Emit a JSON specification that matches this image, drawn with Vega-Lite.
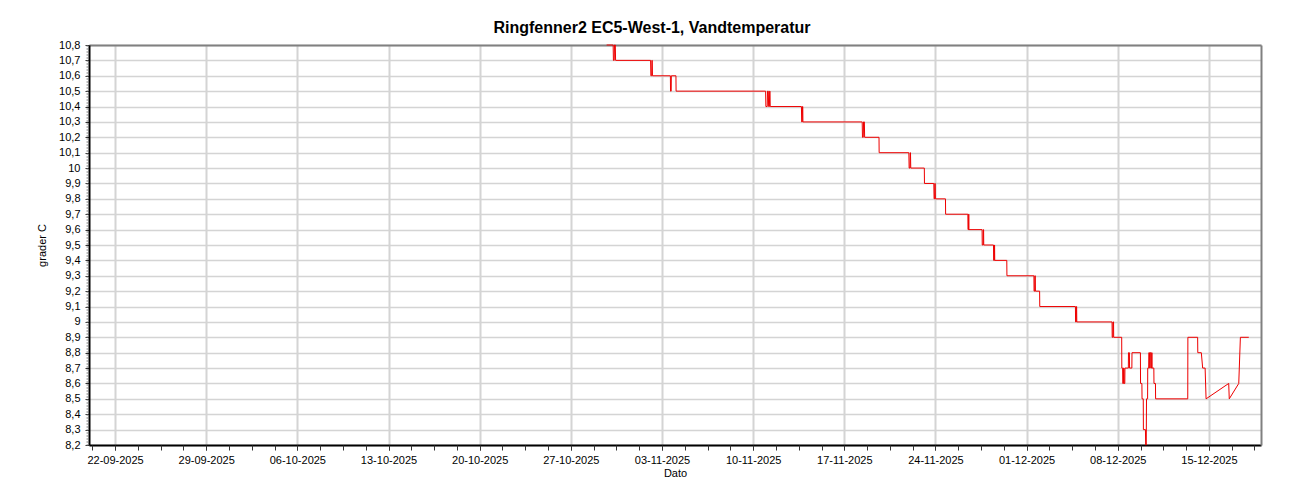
{
  "$schema": "https://vega.github.io/schema/vega-lite/v6.json",
  "width": 1172,
  "height": 400,
  "autosize": "none",
  "padding": {"left": 89, "top": 45, "right": 39, "bottom": 55},
  "background": "white",
  "config": {
    "view": {"stroke": null},
    "font": "Liberation Sans",
    "axis": {"labelFont": "Liberation Sans", "titleFont": "Liberation Sans", "labelColor": "black", "titleColor": "black", "labelFontSize": 11, "titleFontSize": 11, "titleFontWeight": "normal", "zindex": 0}
  },
  "title": {
    "text": "Ringfenner2 EC5-West-1, Vandtemperatur",
    "font": "Liberation Sans",
    "fontSize": 16,
    "fontWeight": "bold",
    "color": "black",
    "anchor": "middle",
    "dx": -23,
    "baseline": "alphabetic",
    "offset": -10
  },
  "data": {
    "values": [
      {"t": "2025-10-29T18:00", "v": 10.8},
      {"t": "2025-10-30T06:00", "v": 10.8},
      {"t": "2025-10-30T06:30", "v": 10.7},
      {"t": "2025-10-30T08:00", "v": 10.7},
      {"t": "2025-10-30T08:30", "v": 10.8},
      {"t": "2025-10-30T10:00", "v": 10.8},
      {"t": "2025-10-30T10:30", "v": 10.7},
      {"t": "2025-11-02T03:00", "v": 10.7},
      {"t": "2025-11-02T03:30", "v": 10.6},
      {"t": "2025-11-02T05:00", "v": 10.6},
      {"t": "2025-11-02T05:30", "v": 10.7},
      {"t": "2025-11-02T06:00", "v": 10.7},
      {"t": "2025-11-02T06:30", "v": 10.6},
      {"t": "2025-11-03T15:30", "v": 10.6},
      {"t": "2025-11-03T15:45", "v": 10.5},
      {"t": "2025-11-03T17:00", "v": 10.5},
      {"t": "2025-11-03T17:15", "v": 10.6},
      {"t": "2025-11-04T01:45", "v": 10.6},
      {"t": "2025-11-04T02:00", "v": 10.5},
      {"t": "2025-11-10T23:00", "v": 10.5},
      {"t": "2025-11-10T23:30", "v": 10.4},
      {"t": "2025-11-11T02:00", "v": 10.4},
      {"t": "2025-11-11T02:30", "v": 10.5},
      {"t": "2025-11-11T04:00", "v": 10.5},
      {"t": "2025-11-11T04:30", "v": 10.4},
      {"t": "2025-11-11T06:00", "v": 10.4},
      {"t": "2025-11-11T06:30", "v": 10.5},
      {"t": "2025-11-11T07:00", "v": 10.5},
      {"t": "2025-11-11T07:30", "v": 10.4},
      {"t": "2025-11-13T17:00", "v": 10.4},
      {"t": "2025-11-13T17:30", "v": 10.3},
      {"t": "2025-11-13T18:30", "v": 10.3},
      {"t": "2025-11-13T19:00", "v": 10.4},
      {"t": "2025-11-13T19:30", "v": 10.4},
      {"t": "2025-11-13T19:45", "v": 10.3},
      {"t": "2025-11-18T09:00", "v": 10.3},
      {"t": "2025-11-18T09:30", "v": 10.2},
      {"t": "2025-11-18T11:00", "v": 10.2},
      {"t": "2025-11-18T11:30", "v": 10.3},
      {"t": "2025-11-18T13:00", "v": 10.3},
      {"t": "2025-11-18T13:30", "v": 10.2},
      {"t": "2025-11-19T16:00", "v": 10.2},
      {"t": "2025-11-19T16:15", "v": 10.1},
      {"t": "2025-11-21T23:00", "v": 10.1},
      {"t": "2025-11-21T23:30", "v": 10.0},
      {"t": "2025-11-22T01:00", "v": 10.0},
      {"t": "2025-11-22T01:30", "v": 10.1},
      {"t": "2025-11-22T02:00", "v": 10.1},
      {"t": "2025-11-22T02:30", "v": 10.0},
      {"t": "2025-11-23T03:30", "v": 10.0},
      {"t": "2025-11-23T03:45", "v": 9.9},
      {"t": "2025-11-23T21:00", "v": 9.9},
      {"t": "2025-11-23T21:30", "v": 9.8},
      {"t": "2025-11-23T22:30", "v": 9.8},
      {"t": "2025-11-23T23:00", "v": 9.9},
      {"t": "2025-11-23T23:30", "v": 9.9},
      {"t": "2025-11-24T00:00", "v": 9.8},
      {"t": "2025-11-24T18:30", "v": 9.8},
      {"t": "2025-11-24T18:45", "v": 9.7},
      {"t": "2025-11-26T11:45", "v": 9.7},
      {"t": "2025-11-26T12:00", "v": 9.6},
      {"t": "2025-11-26T13:00", "v": 9.6},
      {"t": "2025-11-26T13:15", "v": 9.7},
      {"t": "2025-11-26T13:30", "v": 9.7},
      {"t": "2025-11-26T13:45", "v": 9.6},
      {"t": "2025-11-27T14:00", "v": 9.6},
      {"t": "2025-11-27T14:15", "v": 9.5},
      {"t": "2025-11-27T16:00", "v": 9.5},
      {"t": "2025-11-27T16:15", "v": 9.6},
      {"t": "2025-11-27T16:45", "v": 9.6},
      {"t": "2025-11-27T17:00", "v": 9.5},
      {"t": "2025-11-28T11:00", "v": 9.5},
      {"t": "2025-11-28T11:15", "v": 9.4},
      {"t": "2025-11-28T12:30", "v": 9.4},
      {"t": "2025-11-28T12:45", "v": 9.5},
      {"t": "2025-11-28T13:00", "v": 9.5},
      {"t": "2025-11-28T13:15", "v": 9.4},
      {"t": "2025-11-29T11:30", "v": 9.4},
      {"t": "2025-11-29T11:45", "v": 9.3},
      {"t": "2025-12-01T13:30", "v": 9.3},
      {"t": "2025-12-01T13:45", "v": 9.2},
      {"t": "2025-12-01T15:00", "v": 9.2},
      {"t": "2025-12-01T15:15", "v": 9.3},
      {"t": "2025-12-01T16:00", "v": 9.3},
      {"t": "2025-12-01T16:15", "v": 9.2},
      {"t": "2025-12-02T00:00", "v": 9.2},
      {"t": "2025-12-02T00:15", "v": 9.1},
      {"t": "2025-12-04T18:00", "v": 9.1},
      {"t": "2025-12-04T18:15", "v": 9.0},
      {"t": "2025-12-04T19:30", "v": 9.0},
      {"t": "2025-12-04T19:45", "v": 9.1},
      {"t": "2025-12-04T20:15", "v": 9.1},
      {"t": "2025-12-04T20:30", "v": 9.0},
      {"t": "2025-12-07T13:30", "v": 9.0},
      {"t": "2025-12-07T13:45", "v": 8.9},
      {"t": "2025-12-07T15:00", "v": 8.9},
      {"t": "2025-12-07T15:15", "v": 9.0},
      {"t": "2025-12-07T16:15", "v": 9.0},
      {"t": "2025-12-07T16:30", "v": 8.9},
      {"t": "2025-12-08T07:15", "v": 8.9},
      {"t": "2025-12-08T07:30", "v": 8.7},
      {"t": "2025-12-08T09:00", "v": 8.7},
      {"t": "2025-12-08T09:15", "v": 8.6},
      {"t": "2025-12-08T10:30", "v": 8.6},
      {"t": "2025-12-08T10:45", "v": 8.7},
      {"t": "2025-12-08T11:30", "v": 8.7},
      {"t": "2025-12-08T11:45", "v": 8.6},
      {"t": "2025-12-08T13:00", "v": 8.6},
      {"t": "2025-12-08T13:15", "v": 8.7},
      {"t": "2025-12-08T19:30", "v": 8.7},
      {"t": "2025-12-08T19:45", "v": 8.8},
      {"t": "2025-12-08T21:30", "v": 8.8},
      {"t": "2025-12-08T21:45", "v": 8.7},
      {"t": "2025-12-09T02:00", "v": 8.7},
      {"t": "2025-12-09T02:15", "v": 8.8},
      {"t": "2025-12-09T17:45", "v": 8.8},
      {"t": "2025-12-09T18:00", "v": 8.6},
      {"t": "2025-12-09T20:30", "v": 8.6},
      {"t": "2025-12-09T20:45", "v": 8.5},
      {"t": "2025-12-09T23:00", "v": 8.5},
      {"t": "2025-12-09T23:15", "v": 8.3},
      {"t": "2025-12-10T03:00", "v": 8.3},
      {"t": "2025-12-10T03:30", "v": 8.2},
      {"t": "2025-12-10T04:30", "v": 8.2},
      {"t": "2025-12-10T05:00", "v": 8.5},
      {"t": "2025-12-10T07:00", "v": 8.5},
      {"t": "2025-12-10T07:15", "v": 8.7},
      {"t": "2025-12-10T09:00", "v": 8.7},
      {"t": "2025-12-10T09:15", "v": 8.8},
      {"t": "2025-12-10T10:30", "v": 8.8},
      {"t": "2025-12-10T10:45", "v": 8.7},
      {"t": "2025-12-10T11:45", "v": 8.7},
      {"t": "2025-12-10T12:00", "v": 8.8},
      {"t": "2025-12-10T13:15", "v": 8.8},
      {"t": "2025-12-10T13:30", "v": 8.7},
      {"t": "2025-12-10T14:30", "v": 8.7},
      {"t": "2025-12-10T14:45", "v": 8.8},
      {"t": "2025-12-10T15:00", "v": 8.8},
      {"t": "2025-12-10T15:15", "v": 8.7},
      {"t": "2025-12-10T18:30", "v": 8.7},
      {"t": "2025-12-10T18:45", "v": 8.6},
      {"t": "2025-12-10T21:30", "v": 8.6},
      {"t": "2025-12-10T21:45", "v": 8.5},
      {"t": "2025-12-13T09:00", "v": 8.5},
      {"t": "2025-12-13T09:15", "v": 8.9},
      {"t": "2025-12-14T03:15", "v": 8.9},
      {"t": "2025-12-14T03:30", "v": 8.8},
      {"t": "2025-12-14T10:00", "v": 8.8},
      {"t": "2025-12-14T12:30", "v": 8.7},
      {"t": "2025-12-14T17:00", "v": 8.7},
      {"t": "2025-12-14T18:45", "v": 8.5},
      {"t": "2025-12-16T12:30", "v": 8.6},
      {"t": "2025-12-16T13:30", "v": 8.5},
      {"t": "2025-12-17T07:00", "v": 8.6},
      {"t": "2025-12-17T10:00", "v": 8.9},
      {"t": "2025-12-18T01:30", "v": 8.9}
    ]
  },
  "resolve": {"axis": {"x": "independent", "y": "independent"}},
  "layer": [
    {
      "mark": {"type": "line", "strokeOpacity": 0},
      "encoding": {
        "x": {
          "field": "t", "type": "temporal",
          "scale": {"domain": ["2025-09-20T00:00", "2025-12-19T00:00"]},
          "axis": {
            "orient": "bottom",
            "values": ["2025-09-22T00:00", "2025-09-29T00:00", "2025-10-06T00:00", "2025-10-13T00:00", "2025-10-20T00:00", "2025-10-27T00:00", "2025-11-03T00:00", "2025-11-10T00:00", "2025-11-17T00:00", "2025-11-24T00:00", "2025-12-01T00:00", "2025-12-08T00:00", "2025-12-15T00:00"],
            "format": "%d-%m-%Y",
            "title": "Dato",
            "grid": true, "gridColor": "#d4d4d4", "gridWidth": 2,
            "domainColor": "black", "domainWidth": 2,
            "ticks": true, "tickSize": 5, "tickColor": "#333333",
            "labelPadding": 4, "titlePadding": 2,
            "labelFlush": false, "labelOverlap": false, "zindex": 0
          }
        },
        "y": {
          "field": "v", "type": "quantitative",
          "scale": {"domain": [8.2, 10.8], "nice": false, "zero": false},
          "axis": {
            "orient": "left",
            "values": [8.2, 8.3, 8.4, 8.5, 8.6, 8.7, 8.8, 8.9, 9.0, 9.1, 9.2, 9.3, 9.4, 9.5, 9.6, 9.7, 9.8, 9.9, 10.0, 10.1, 10.2, 10.3, 10.4, 10.5, 10.6, 10.7, 10.8],
            "labelExpr": "replace(format(datum.value, '.1~f'), '.', ',')",
            "title": "grader C",
            "grid": true, "gridColor": "#d4d4d4", "gridWidth": 1.5,
            "domainColor": "black", "domainWidth": 2,
            "tickSize": 4, "tickColor": "#333333",
            "labelPadding": 5, "titlePadding": 11,
            "labelFlush": false, "labelOverlap": false, "zindex": 0
          }
        }
      }
    },
    {
      "mark": {"type": "line", "strokeOpacity": 0},
      "encoding": {
        "x": {
          "field": "t", "type": "temporal",
          "axis": {
            "orient": "top",
            "labels": false, "grid": false, "ticks": false, "title": null,
            "domain": true, "domainColor": "#808080", "domainWidth": 2, "zindex": 0
          }
        },
        "y": {
          "field": "v", "type": "quantitative",
          "axis": {
            "orient": "right",
            "labels": false, "grid": false, "ticks": false, "title": null,
            "domain": true, "domainColor": "#808080", "domainWidth": 2, "zindex": 0
          }
        }
      }
    },
    {
      "mark": {"type": "line", "color": "#ee0000", "strokeWidth": 1, "clip": false},
      "encoding": {
        "x": {
          "field": "t", "type": "temporal",
          "axis": {
            "orient": "bottom",
            "values": ["2025-09-20T06:00", "2025-09-22T00:00", "2025-09-23T18:00", "2025-09-25T12:00", "2025-09-27T06:00", "2025-09-29T00:00", "2025-09-30T18:00", "2025-10-02T12:00", "2025-10-04T06:00", "2025-10-06T00:00", "2025-10-07T18:00", "2025-10-09T12:00", "2025-10-11T06:00", "2025-10-13T00:00", "2025-10-14T18:00", "2025-10-16T12:00", "2025-10-18T06:00", "2025-10-20T00:00", "2025-10-21T18:00", "2025-10-23T12:00", "2025-10-25T06:00", "2025-10-27T00:00", "2025-10-28T18:00", "2025-10-30T12:00", "2025-11-01T06:00", "2025-11-03T00:00", "2025-11-04T18:00", "2025-11-06T12:00", "2025-11-08T06:00", "2025-11-10T00:00", "2025-11-11T18:00", "2025-11-13T12:00", "2025-11-15T06:00", "2025-11-17T00:00", "2025-11-18T18:00", "2025-11-20T12:00", "2025-11-22T06:00", "2025-11-24T00:00", "2025-11-25T18:00", "2025-11-27T12:00", "2025-11-29T06:00", "2025-12-01T00:00", "2025-12-02T18:00", "2025-12-04T12:00", "2025-12-06T06:00", "2025-12-08T00:00", "2025-12-09T18:00", "2025-12-11T12:00", "2025-12-13T06:00", "2025-12-15T00:00", "2025-12-16T18:00", "2025-12-18T12:00"],
            "labels": false, "grid": false, "domain": false, "title": null,
            "ticks": true, "tickSize": 5, "tickColor": "#333333", "zindex": 0
          }
        },
        "y": {
          "field": "v", "type": "quantitative",
          "axis": {
            "orient": "left",
            "labels": false, "grid": false, "ticks": false, "title": null,
            "domain": true, "domainColor": "#777777", "domainWidth": 2, "domainDash": [1, 2], "offset": 2, "zindex": 0
          }
        }
      }
    }
  ]
}
